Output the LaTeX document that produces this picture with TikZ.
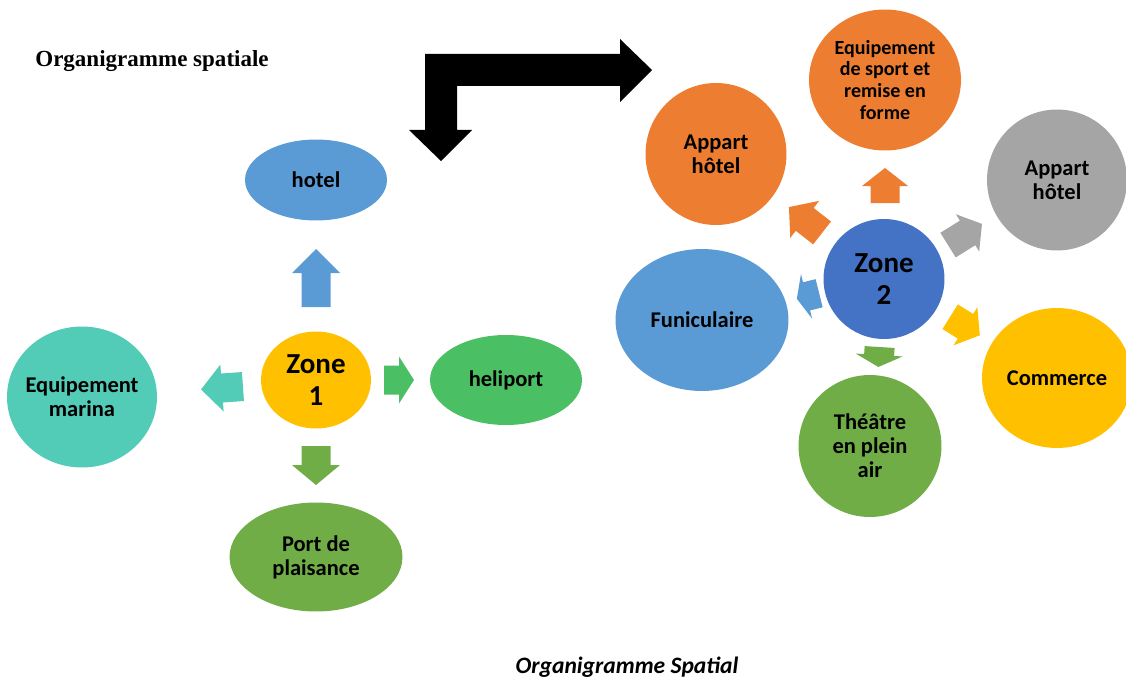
\documentclass[tikz,border=0pt]{standalone}
\usepackage{fontspec}
\setmainfont{Carlito}
\newfontfamily\timesf{Liberation Serif}
\usetikzlibrary{shapes.geometric}
\definecolor{cblue}{HTML}{5B9BD5}
\definecolor{corange}{HTML}{ED7D31}
\definecolor{cgray}{HTML}{A5A5A5}
\definecolor{cgold}{HTML}{FFC000}
\definecolor{cdblue}{HTML}{4472C4}
\definecolor{cgreen}{HTML}{70AD47}
\definecolor{cteal}{HTML}{52CBB7}
\definecolor{clgreen}{HTML}{4BBF63}
\newcommand{\lbl}{\bfseries\fontsize{12.8}{13.7}\selectfont}
\newcommand{\slbl}{\bfseries\fontsize{11.4}{12.5}\selectfont}
\newcommand{\zlbl}{\bfseries\fontsize{16.5}{18.2}\selectfont}
% block arrow: x, y, angle, length, bar width, head width, head length, colour
\newcommand{\blockarr}[8]{%
  \begin{scope}[shift={(#1,#2)},rotate=#3]
    \fill[#8] ({-(#4)/2},{-(#5)/2}) -- ({(#4)/2-(#7)},{-(#5)/2}) -- ({(#4)/2-(#7)},{-(#6)/2}) -- ({(#4)/2},0) -- ({(#4)/2-(#7)},{(#6)/2}) -- ({(#4)/2-(#7)},{(#5)/2}) -- ({-(#4)/2},{(#5)/2}) -- cycle;
  \end{scope}}
\begin{document}
\begin{tikzpicture}[x=0.02cm, y=0.02cm,
  bub/.style={ellipse, inner sep=0pt, align=center, font=\lbl, text=black}]
\useasboundingbox (0,0) rectangle (1126,-679);

% title and caption
\node[anchor=base west, inner sep=0pt, font=\timesf\bfseries\fontsize{13.1}{15}\selectfont] (title) at (35,-67) {Organigramme spatiale};
\node[anchor=base, inner sep=0pt, font=\bfseries\itshape\fontsize{13.4}{15}\selectfont] (caption) at (627,-673) {Organigramme Spatial};

% black bent arrow
\fill[black] (425,-54) -- (620,-54) -- (620,-39) -- (652,-70) -- (620,-102) -- (620,-86) -- (457,-86) -- (457,-130) -- (472,-130) -- (441,-161) -- (409,-130) -- (425,-130) -- cycle;

% zone 1 group
\node[bub, fill=cblue, minimum width=2.84cm, minimum height=1.62cm] (hotel) at (316,-180) {hotel};
\node[bub, fill=cgold, minimum width=2.2cm, minimum height=1.94cm, font=\zlbl] (zone1) at (316,-380) {Zone\\1};
\node[bub, fill=cteal, minimum width=3.0cm, minimum height=2.82cm] (marina) at (82,-397) {\makebox[0pt]{Equipement}\\marina};
\node[bub, fill=clgreen, minimum width=3.04cm, minimum height=1.8cm] (heliport) at (506,-380) {heliport};
\node[bub, fill=cgreen, minimum width=3.46cm, minimum height=2.18cm] (port) at (316,-557) {Port de\\plaisance};

\blockarr{316}{-278}{90}{58}{29}{48}{24}{cblue}
\blockarr{399}{-380}{0}{30}{29}{47}{15}{clgreen}
\blockarr{222}{-388}{184}{42}{29}{47}{21}{cteal}
\blockarr{316}{-465.5}{-90}{39}{29}{48}{20}{cgreen}

% zone 2 group
\node[bub, fill=cdblue, minimum width=2.42cm, minimum height=2.4cm, font=\zlbl] (zone2) at (884,-279) {Zone\\2};
\node[bub, fill=corange, minimum width=2.82cm, minimum height=2.84cm] (ah1) at (716,-154) {Appart\\hôtel};
\node[bub, fill=corange, minimum width=3.04cm, minimum height=2.82cm, font=\slbl] (sport) at (885,-80) {Equipement\\de sport et\\remise en\\forme};
\node[bub, fill=cgray, minimum width=2.8cm, minimum height=2.82cm] (ah2) at (1057,-180) {Appart\\hôtel};
\node[bub, fill=cblue, minimum width=3.46cm, minimum height=2.84cm] (funi) at (702,-320) {Funiculaire};
\node[bub, fill=cgold, minimum width=3.0cm, minimum height=2.8cm] (comm) at (1057,-378) {Commerce};
\node[bub, fill=cgreen, minimum width=2.86cm, minimum height=2.84cm] (theatre) at (870,-446) {Théâtre\\en plein\\air};

\blockarr{885}{-185.5}{90}{35}{29}{46}{18}{corange}
\blockarr{805.5}{-220}{142}{42}{29}{47}{20}{corange}
\blockarr{965}{-234.5}{32}{40}{29}{44}{17}{cgray}
\blockarr{965}{-326}{-32}{35}{29}{45}{17}{cgold}
\blockarr{808}{-296}{194}{23}{29}{46}{10}{cblue}
\blockarr{879}{-357}{-93.6}{20}{30}{47}{12}{cgreen}
\end{tikzpicture}
\end{document}
